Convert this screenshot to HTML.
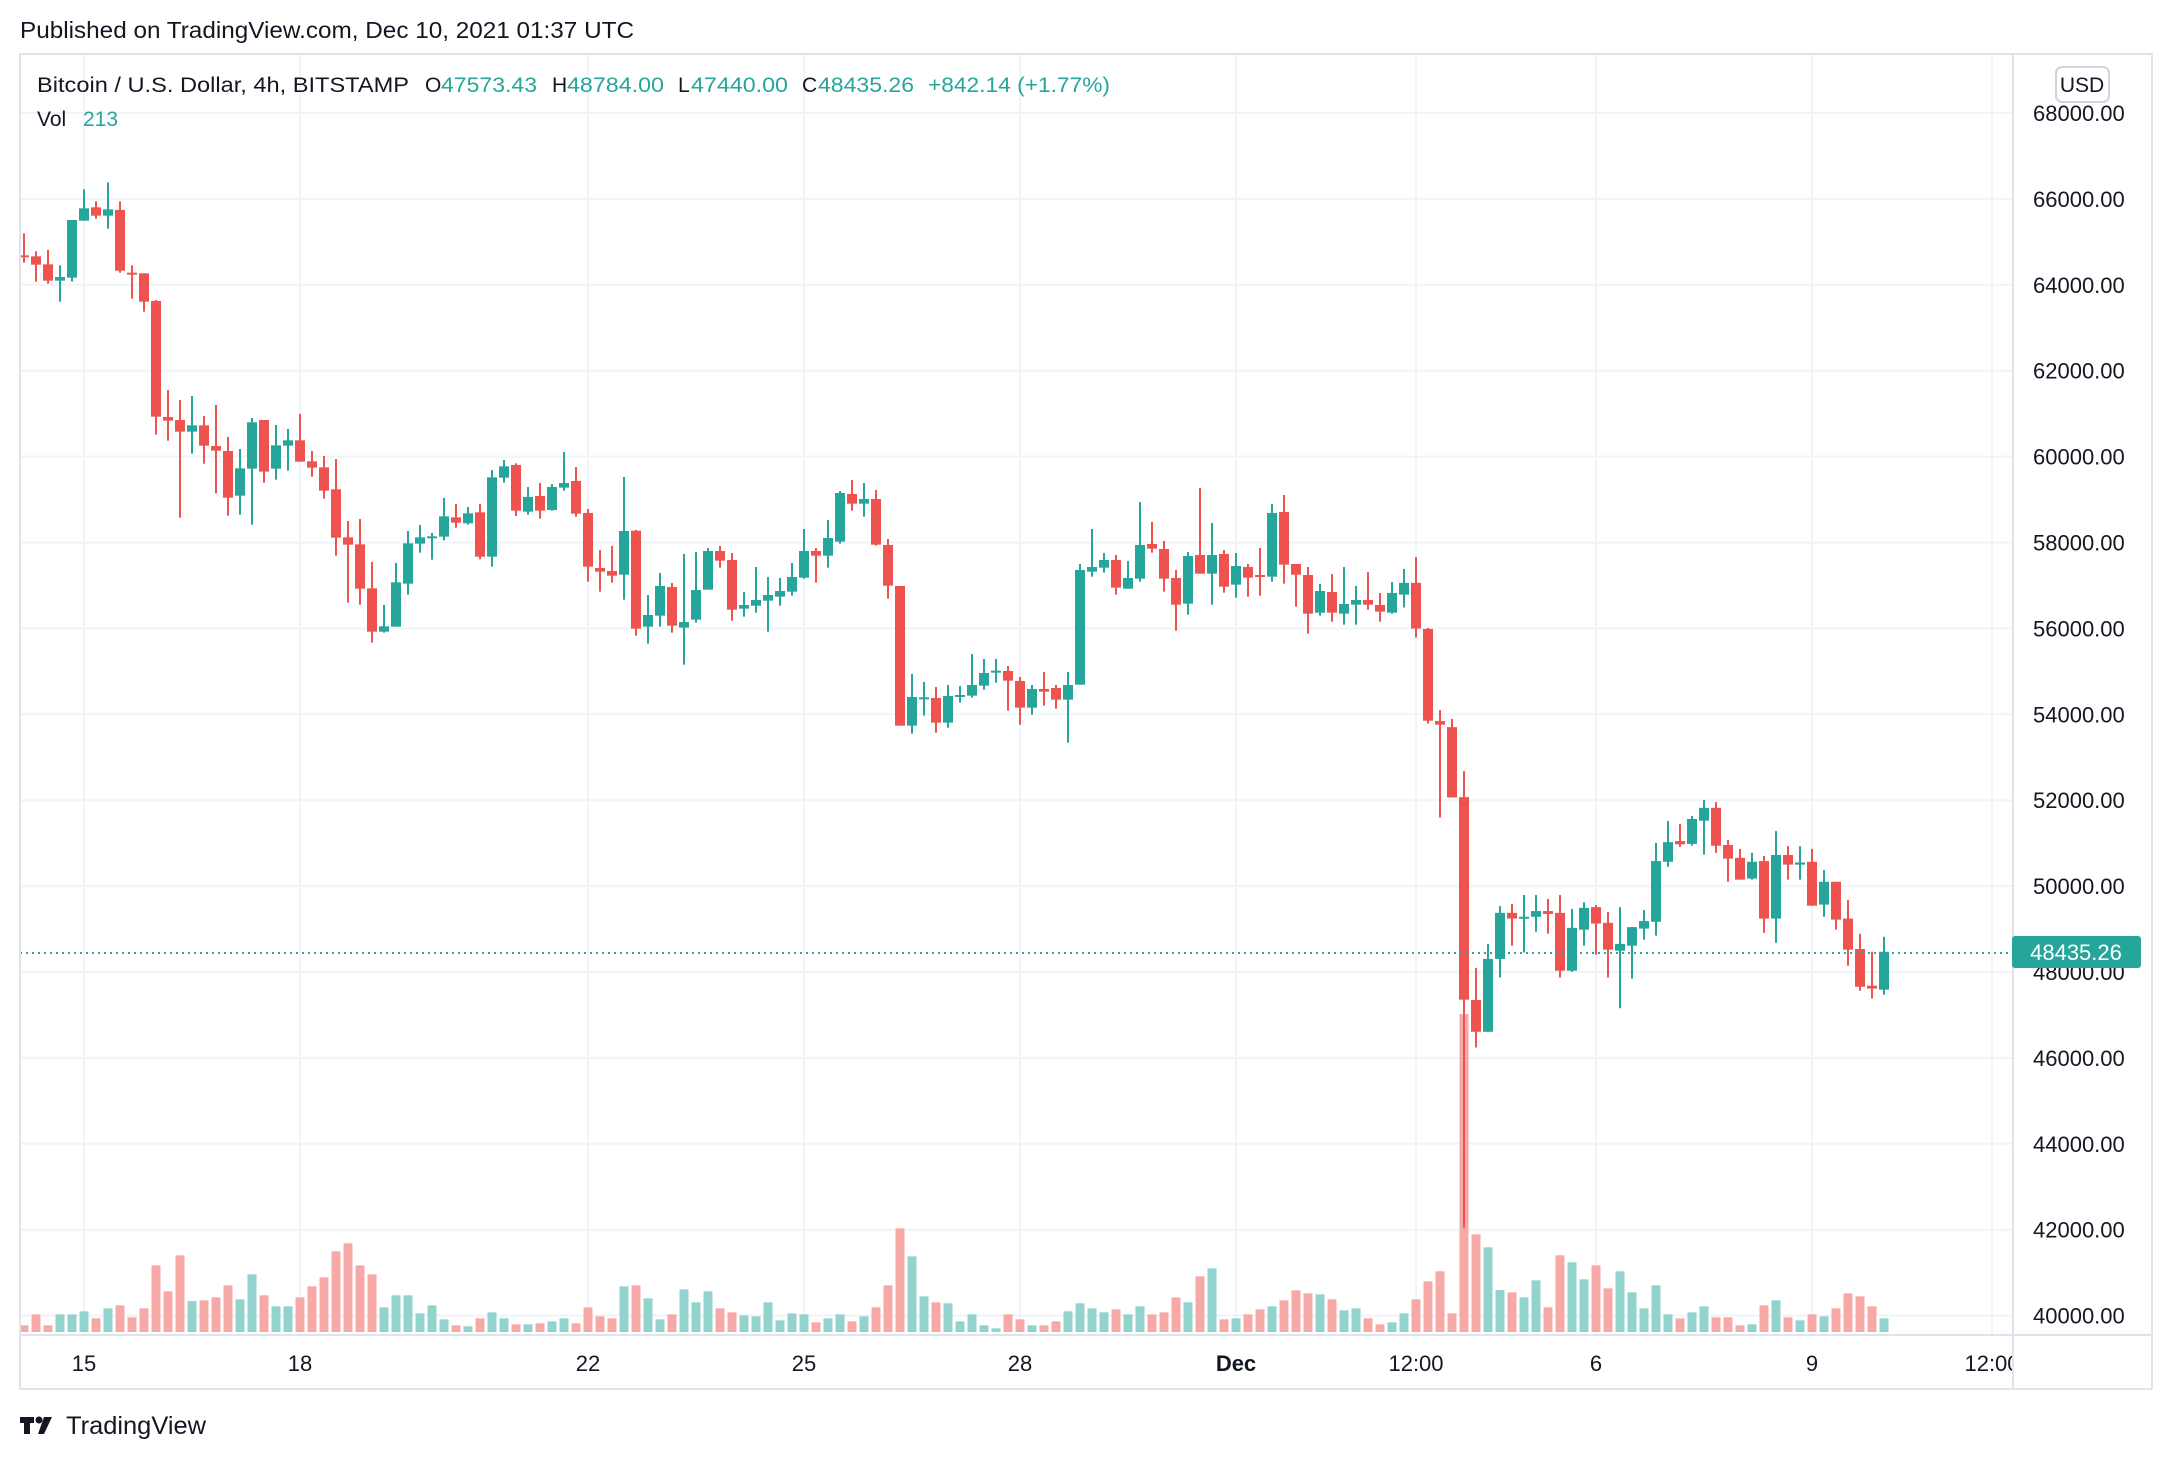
<!DOCTYPE html>
<html><head><meta charset="utf-8"><style>
html,body{margin:0;padding:0;background:#fff;}
svg{display:block;font-family:"Liberation Sans",sans-serif;}
</style></head><body>
<svg id="c" width="2172" height="1460" viewBox="0 0 2172 1460" xmlns="http://www.w3.org/2000/svg">
<defs><clipPath id="tc"><rect x="0" y="1336" width="2012" height="52"/></clipPath></defs>
<rect width="2172" height="1460" fill="#fff"/>
<text x="20" y="38" font-size="23" fill="#131722" textLength="614" lengthAdjust="spacingAndGlyphs">Published on TradingView.com, Dec 10, 2021 01:37 UTC</text>
<g id="grid"></g>
<g id="vol"></g>
<g id="cnd"></g>
<line x1="20" y1="953" x2="2013" y2="953" stroke="#26a69a" stroke-width="2" stroke-dasharray="2 4"/>
<rect x="20" y="54" width="2132" height="1335" fill="none" stroke="#e0e3eb" stroke-width="2"/>
<line x1="2013" y1="54" x2="2013" y2="1389" stroke="#e0e3eb" stroke-width="2"/>
<line x1="20" y1="1335" x2="2152" y2="1335" stroke="#e0e3eb" stroke-width="2"/>
<g id="ax" font-size="22" fill="#131722"></g>
<g id="tx" font-size="22" fill="#131722" clip-path="url(#tc)"></g>
<rect x="2056" y="67" width="53" height="35" rx="6" fill="#fff" stroke="#d1d4dc" stroke-width="2"/>
<text x="2082" y="92" font-size="21" fill="#131722" text-anchor="middle">USD</text>
<rect x="2012" y="936" width="129" height="32" rx="3" fill="#26a69a"/>
<text x="2076" y="960" font-size="22" fill="#fff" text-anchor="middle">48435.26</text>
<g font-size="21">
<text x="37" y="92" fill="#131722" textLength="372" lengthAdjust="spacingAndGlyphs">Bitcoin / U.S. Dollar, 4h, BITSTAMP</text>
<text x="425" y="92" fill="#131722">O</text><text x="441" y="92" fill="#26a69a" textLength="96" lengthAdjust="spacingAndGlyphs">47573.43</text>
<text x="552" y="92" fill="#131722">H</text><text x="567" y="92" fill="#26a69a" textLength="97" lengthAdjust="spacingAndGlyphs">48784.00</text>
<text x="678" y="92" fill="#131722">L</text><text x="691" y="92" fill="#26a69a" textLength="97" lengthAdjust="spacingAndGlyphs">47440.00</text>
<text x="802" y="92" fill="#131722">C</text><text x="818" y="92" fill="#26a69a" textLength="96" lengthAdjust="spacingAndGlyphs">48435.26</text>
<text x="928" y="92" fill="#26a69a" textLength="182" lengthAdjust="spacingAndGlyphs">+842.14 (+1.77%)</text>
<text x="37" y="126" fill="#131722">Vol</text><text x="83" y="126" fill="#26a69a">213</text>
</g>
<g fill="#131722">
<rect x="20" y="1417" width="14" height="6"/><rect x="24" y="1417" width="6" height="17"/>
<circle cx="39" cy="1420" r="3.5"/><polygon points="44,1417 52,1417 44,1434 38,1434"/>
<text x="66" y="1434" font-size="25" textLength="140" lengthAdjust="spacingAndGlyphs">TradingView</text>
</g>
</svg>
<script>
(function(){
var NS="http://www.w3.org/2000/svg";
function el(p,t,a,txt){var e=document.createElementNS(NS,t);for(var k in a)e.setAttribute(k,a[k]);if(txt!=null)e.textContent=txt;document.getElementById(p).appendChild(e);return e;}
function yp(p){return 113+(68000-p)*0.04295;}
for(var p=40000;p<=68000;p+=2000){var y=yp(p);el('grid','line',{x1:20,x2:2013,y1:y,y2:y,stroke:'#f0f3fa','stroke-width':2});
el('ax','text',{x:2033,y:y+8},p+'.00');}
var vx=[[84,'15'],[300,'18'],[588,'22'],[804,'25'],[1020,'28'],[1236,'Dec'],[1416,'12:00'],[1596,'6'],[1812,'9'],[1992,'12:00']];
vx.forEach(function(v){el('grid','line',{x1:v[0],x2:v[0],y1:54,y2:1335,stroke:'#f0f3fa','stroke-width':2});
var t=el('tx','text',{x:v[0],y:1371,'text-anchor':'middle'},v[1]);if(v[1]=='Dec')t.setAttribute('font-weight','bold');});
var segs=[
{o:160,s:3,d:[[286,292,220,308,'r'],[289,314,274,365,'r'],[313,362,270,371,'r'],[351,362,316,425,'g'],[180,353,180,365,'g'],[145,182,88,182,'g'],[142,167,124,176,'r'],[148,167,67,206,'g'],[150,332,124,338,'r'],[338,343,316,416,'r'],[340,425,340,455,'r'],[423,770,420,824,'r'],[771,782,690,842,'r'],[780,815,720,1073,'r'],[796,815,708,881,'g'],[796,857,768,911,'r'],[858,872,735,1000,'r'],[873,1013,831,1067,'r'],[925,1007,867,1064,'g'],[787,926,774,1094,'g'],[780,935,780,968,'r'],[856,926,795,959,'g'],[841,857,807,932,'g'],[841,905,762,905,'r'],[904,923,873,950,'r'],[922,992,888,1016,'r'],[988,1133,897,1187,'r'],[1132,1154,1083,1328,'r'],[1153,1286,1077,1334,'r'],[1285,1415,1206,1448,'r'],[1399,1415,1335,1418,'g'],[1267,1400,1209,1400,'g'],[1150,1271,1113,1304,'g'],[1132,1151,1095,1178,'g'],[1129,1133,1119,1199,'g'],[1069,1130,1014,1141,'g'],[1072,1088,1032,1103,'r'],[1060,1090,1041,1094,'g'],[1057,1190,1032,1198,'r'],[952,1190,930,1220,'g'],[919,953,900,968,'g']]},
{o:440,s:3,d:[[75,212,70,228,'r'],[171,215,141,224,'g'],[168,212,129,236,'r'],[141,210,132,212,'g'],[129,143,36,152,'g'],[123,221,81,230,'r'],[219,380,207,425,'r'],[384,395,330,455,'r'],[393,407,318,428,'r'],[273,404,111,479,'g'],[272,566,270,587,'r'],[525,560,465,611,'g'],[438,527,399,560,'g'],[441,557,429,578,'r'],[546,563,342,674,'g'],[450,539,336,548,'g'],[333,449,324,449,'g'],[333,362,318,383,'r'],[360,509,339,542,'r'],[495,506,456,530,'g'],[480,497,381,518,'g'],[465,482,411,575,'g'],[453,470,414,497,'g'],[411,455,369,467,'g'],[333,413,267,416,'g'],[333,347,324,428,'r'],[294,347,240,383,'g'],[159,305,153,311,'g'],[162,191,120,212,'r'],[177,191,129,230,'g'],[177,314,150,317,'r'],[315,437,297,476,'r'],[438,857,438,857,'r'],[771,857,702,881,'g'],[772,777,726,827,'g'],[774,848,741,878,'r'],[768,848,735,863,'g'],[765,770,738,788,'g'],[735,767,642,773,'g'],[699,737,657,749,'g'],[692,697,657,728,'g']]},
{o:460,s:3,d:[[633,662,618,752,'r'],[663,743,651,794,'r'],[687,743,675,764,'g'],[687,695,636,737,'r'],[684,719,675,746,'r'],[675,719,636,848,'g'],[330,674,312,674,'g'],[321,335,207,350,'g'],[300,323,279,338,'g'],[300,383,285,404,'r'],[354,386,303,386,'g'],[255,356,126,365,'g'],[252,266,186,278,'r'],[267,356,243,395,'r'],[354,434,330,512,'r'],[288,431,276,464,'g'],[285,341,84,341,'r'],[285,341,189,434,'g'],[282,380,270,398,'r'],[318,374,279,413,'g'],[321,353,312,410,'r'],[345,350,264,407,'r'],[159,350,132,365,'g'],[156,314,105,371,'r'],[312,344,312,440,'r'],[345,461,321,521,'r'],[393,458,372,467,'g'],[396,458,342,485,'r'],[432,461,321,494,'g'],[420,434,378,494,'g'],[420,434,336,449,'r'],[435,455,399,485,'r'],[399,458,366,461,'g']]},
{o:500,s:2.8,d:[[232,265,193,301,'g'],[232,360,160,385,'r'],[361,618,358,626,'r'],[619,629,588,889,'r'],[636,833,613,833,'r'],[832,1399,759,2038,'r'],[1400,1489,1310,1533,'r'],[1285,1489,1243,1489,'g'],[1156,1285,1137,1337,'g'],[1156,1172,1131,1248,'r'],[1167,1172,1106,1267,'g'],[1151,1167,1106,1209,'g'],[1151,1159,1117,1214,'r'],[1156,1318,1106,1337,'r'],[1198,1318,1145,1321,'g'],[1142,1203,1126,1248,'g'],[1140,1186,1134,1273,'r'],[1184,1259,1154,1337,'r'],[1243,1262,1140,1423,'g'],[1196,1248,1196,1340,'g'],[1179,1200,1148,1231,'g'],[1011,1181,960,1220,'g'],[958,1013,899,1027,'g'],[955,964,907,971,'r'],[893,963,885,968,'g'],[862,898,840,993,'g'],[862,968,846,988,'r'],[966,1004,952,1069,'r'],[1002,1063,977,1063,'r'],[1013,1060,988,1063,'g'],[1011,1172,997,1212,'r'],[994,1172,927,1240,'g'],[994,1021,969,1063,'r'],[1015,1021,969,1063,'g'],[1013,1136,977,1136,'r'],[1069,1133,1036,1167,'g'],[1069,1175,1069,1203,'r'],[1172,1259,1120,1304,'r'],[1257,1363,1215,1374,'r'],[1360,1368,1265,1396,'r'],[1265,1371,1223,1385,'g']]}
];
var vols=[378,345,378,345,345,336,357,327,318,354,327,198,276,168,305,303,294,258,300,225,288,321,321,294,261,234,156,132,198,225,324,288,288,342,318,360,378,381,357,339,357,375,375,372,366,357,372,324,351,357,261,258,297,360,345,270,309,276,327,339,348,351,309,363,342,345,369,357,345,366,351,324,258,87,171,291,309,312,366,345,378,387,345,360,378,378,366,336,312,327,339,330,345,321,345,339,294,309,231,207,360,357,345,330,321,303,273,282,285,300,333,327,357,375,369,342,300,246,216,342,0,105,144,272,279,294,243,324,168,189,240,198,267,216,279,327,258,345,357,339,321,354,354,378,375,318,303,354,363,345,351,327,282,291,321,357];
var cs=[];segs.forEach(function(s){s.d.forEach(function(d){cs.push({t:s.o+d[0]/s.s,b:s.o+d[1]/s.s,h:s.o+d[2]/s.s,l:s.o+d[3]/s.s,c:d[4]});});});
cs.forEach(function(c,i){
var x=24+12*i;
var vh=(i==120)?318:(398-vols[i])/3;
el('vol','rect',{x:x-4.5,y:1332-vh,width:9,height:vh,fill:c.c=='g'?'#92d3cd':'#f7a9a7'});
var col=c.c=='g'?'#26a69a':'#ef5350';
el('cnd','rect',{x:x-1,y:c.h,width:2,height:Math.max(1,c.l-c.h),fill:col});
el('cnd','rect',{x:x-5,y:c.t,width:10,height:Math.max(2,c.b-c.t),fill:col});
});
})();
</script>
</body></html>
